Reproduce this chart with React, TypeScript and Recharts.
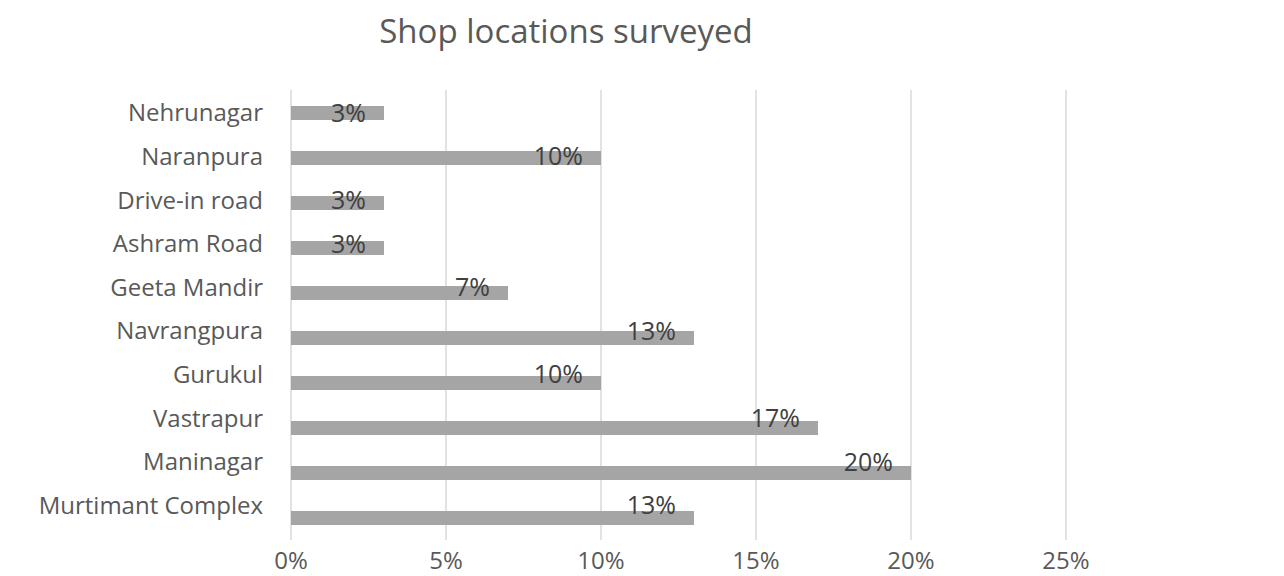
import { Bar, BarChart, CartesianGrid, LabelList, XAxis, YAxis } from 'recharts';

// Shop locations, top to bottom as in the chart
const locations = [
  'Nehrunagar',
  'Naranpura',
  'Drive-in road',
  'Ashram Road',
  'Geeta Mandir',
  'Navrangpura',
  'Gurukul',
  'Vastrapur',
  'Maninagar',
  'Murtimant Complex',
];

// share of shops surveyed, in percent
const shares = [3, 10, 3, 3, 7, 13, 10, 17, 20, 13];

const percentTicks = [0, 5, 10, 15, 20, 25];

const data = locations.map((name, i) => ({ name, share: shares[i] }));

const FONT = '"Open Sans", sans-serif';
const TEXT = '#595959';

export default function App() {
  return (
    <div style={{ position: 'absolute', left: 0, top: 0, width: 1284, height: 576, background: '#fff', fontFamily: FONT }}>
      <div
        style={{
          position: 'absolute',
          left: 316,
          width: 500,
          top: 8,
          textAlign: 'center',
          fontSize: 33,
          color: TEXT,
        }}
      >
        Shop locations surveyed
      </div>
      <BarChart
        width={1284}
        height={576}
        data={data}
        layout="vertical"
        margin={{ top: 90, right: 218, bottom: 0, left: 10 }}
      >
        <CartesianGrid horizontal={false} stroke="#d9d9d9" strokeWidth={1.5} yAxisId="bars" />
        <XAxis
          type="number"
          domain={[0, 25]}
          ticks={percentTicks}
          tickFormatter={(v) => `${v}%`}
          axisLine={false}
          tickLine={false}
          tickSize={0}
          tickMargin={12}
          height={36}
          tick={{ fill: TEXT, fontSize: 24, fontFamily: FONT }}
        />
        <YAxis yAxisId="bars" type="category" dataKey="name" width={0} hide />
        <YAxis
          yAxisId="text"
          type="category"
          dataKey="name"
          width={281}
          padding={{ top: 1, bottom: 13 }}
          axisLine={false}
          tickLine={false}
          tickSize={0}
          tickMargin={28}
          interval={0}
          tick={{ fill: TEXT, fontSize: 24, fontFamily: FONT }}
        />
        <Bar yAxisId="bars" dataKey="share" fill="#a5a5a5" barSize={14} isAnimationActive={false} />
        <Bar yAxisId="text" dataKey="share" fill="transparent" barSize={14} isAnimationActive={false}>
          <LabelList
            dataKey="share"
            position="insideRight"
            offset={18}
            formatter={(v: number) => `${v}%`}
            style={{ fill: '#404040', fontSize: 25, fontFamily: FONT }}
          />
        </Bar>
      </BarChart>
    </div>
  );
}
